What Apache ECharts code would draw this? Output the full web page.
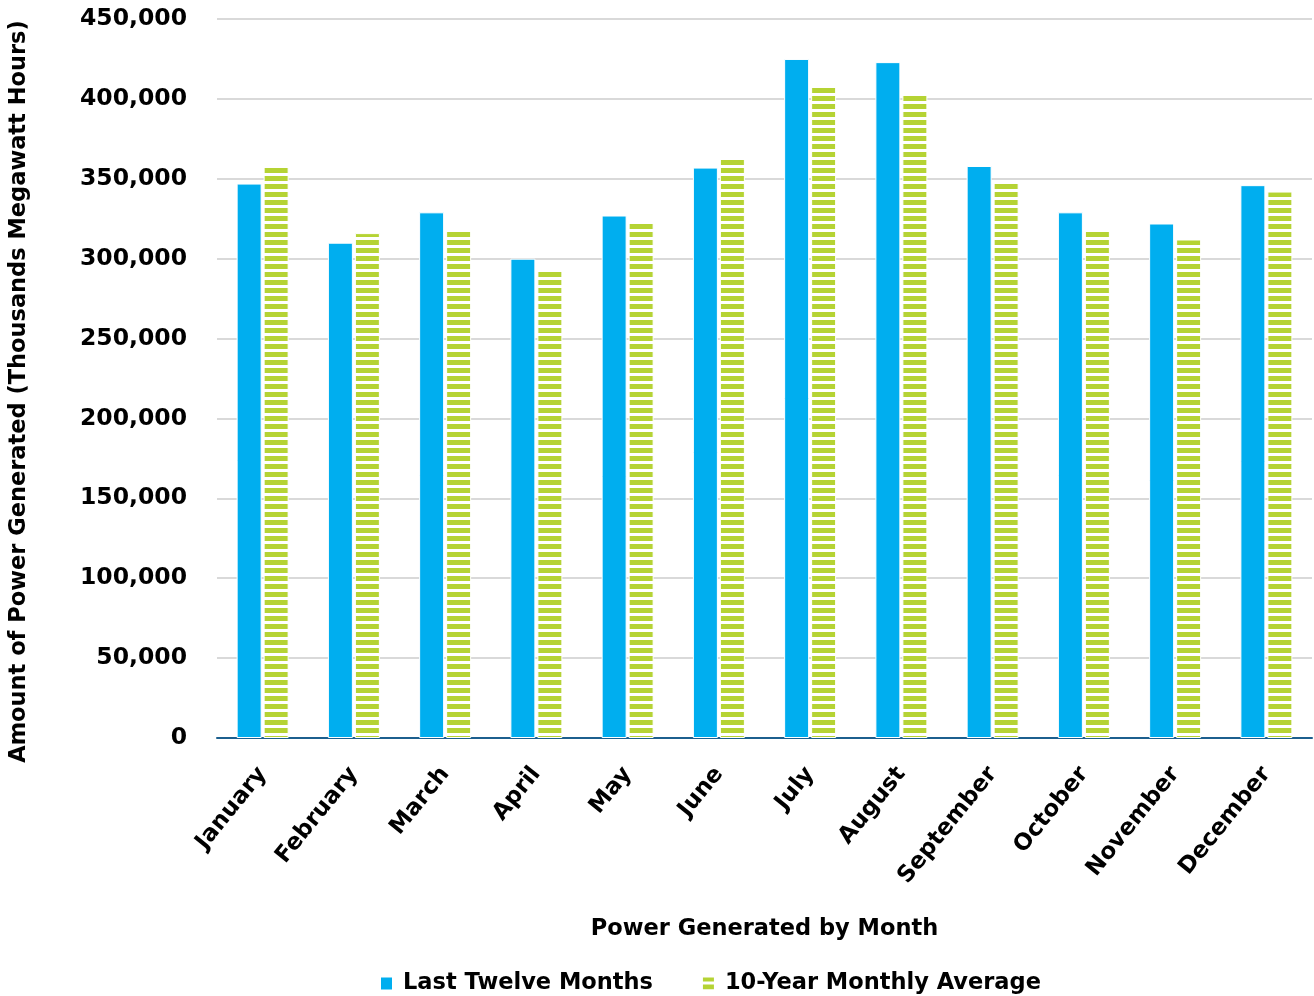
<!DOCTYPE html>
<html>
<head>
<meta charset="utf-8">
<script src="https://cdn.jsdelivr.net/npm/echarts@6/dist/echarts.min.js"></script>
<style>
  html, body { margin: 0; padding: 0; background: #ffffff; }
  #chart { width: 1314px; height: 996px; }
</style>
</head>
<body>
<div id="chart"></div>
<script>
// Monthly generation, thousands of megawatt hours
const months = ['January', 'February', 'March', 'April', 'May', 'June',
  'July', 'August', 'September', 'October', 'November', 'December'];
const lastTwelveMonths = [347000, 310000, 329000, 300000, 327000, 357000,
  425000, 423000, 358000, 329000, 322000, 346000];
const tenYearAverage = [358000, 316000, 318000, 293000, 323000, 363000,
  408000, 403000, 348000, 318000, 312000, 342000];
const yTicks = [0, 50000, 100000, 150000, 200000, 250000, 300000, 350000, 400000, 450000];

const BLUE = '#00aeef';
const GREEN = '#b5d334';
const FONT = 'DejaVu Sans';

// Horizontal stripe fill for the average series
function stripePattern() {
  const c = document.createElement('canvas');
  c.width = 8; c.height = 8;
  const ctx = c.getContext('2d');
  ctx.fillStyle = '#ffffff';
  ctx.fillRect(0, 0, 8, 8);
  ctx.fillStyle = GREEN;
  ctx.fillRect(0, 0, 8, 5);
  return { image: c, repeat: 'repeat' };
}
const stripes = stripePattern();

const labelText = { fontFamily: FONT, fontWeight: 'bold', color: '#000' };

const chart = echarts.init(document.getElementById('chart'), null, { renderer: 'canvas' });
chart.setOption({
  animation: false,
  backgroundColor: '#ffffff',
  textStyle: { fontFamily: FONT },
  grid: { left: 214, right: 2, top: 19, bottom: 258, containLabel: false },
  legend: {
    top: 967,
    left: 374,
    itemWidth: 13,
    itemHeight: 14,
    itemGap: 48,
    textStyle: Object.assign({ fontSize: 22.5, padding: [0, 0, 0, 5] }, labelText),
    data: [
      { name: 'Last Twelve Months', icon: 'rect', itemStyle: { color: BLUE } },
      { name: '10-Year Monthly Average', icon: 'rect', itemStyle: { color: stripes } }
    ]
  },
  xAxis: {
    type: 'category',
    data: months,
    name: 'Power Generated by Month',
    nameLocation: 'middle',
    nameGap: 180,
    nameTextStyle: Object.assign({ fontSize: 22.5 }, labelText),
    axisLine: { lineStyle: { color: '#1c5f8e', width: 2 } },
    axisTick: { show: false },
    axisLabel: Object.assign({
      interval: 0,
      rotate: 51,
      margin: 32,
      fontSize: 23
    }, labelText)
  },
  yAxis: {
    type: 'value',
    min: 0,
    max: 450000,
    interval: 50000,
    name: 'Amount of Power Generated (Thousands Megawatt Hours)',
    nameLocation: 'middle',
    nameGap: 186,
    nameTextStyle: Object.assign({ fontSize: 22.5, padding: [0, 26, 0, 0] }, labelText),
    axisLine: { show: false },
    axisTick: { show: false },
    splitLine: { lineStyle: { color: '#d9d9d9', width: 2 } },
    axisLabel: Object.assign({
      margin: 30,
      fontSize: 23.5,
      formatter: v => yTicks.includes(v) ? v.toLocaleString('en-US') : ''
    }, labelText)
  },
  series: [
    {
      name: 'Last Twelve Months',
      type: 'bar',
      data: lastTwelveMonths,
      barWidth: 25,
      barGap: '8%',
      itemStyle: { color: BLUE, borderColor: '#ffffff', borderWidth: 1 }
    },
    {
      name: '10-Year Monthly Average',
      type: 'bar',
      data: tenYearAverage,
      barWidth: 25,
      itemStyle: { color: stripes, borderColor: '#ffffff', borderWidth: 1 }
    }
  ]
});
</script>
</body>
</html>
